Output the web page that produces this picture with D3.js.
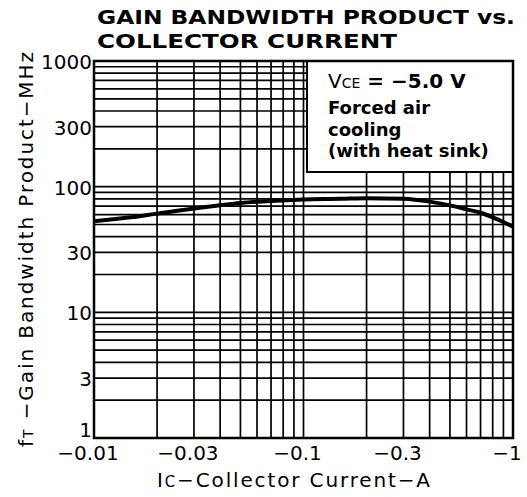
<!DOCTYPE html>
<html>
<head>
<meta charset="utf-8">
<script src="https://cdn.jsdelivr.net/npm/d3@7"></script>
<style>
body { margin: 0; background: #fff; }
text { font-family: "DejaVu Sans", sans-serif; fill: #000; }
</style>
</head>
<body>
<div class="viz"></div>
<script>
// -Ic (A) and fT (MHz)
const currents = [0.01, 0.015, 0.02, 0.03, 0.04, 0.05, 0.07, 0.1, 0.15, 0.2, 0.3, 0.4, 0.5, 0.6, 0.7, 0.8, 1.0];
const gainBw   = [53, 57, 61, 67, 71, 74, 77, 79, 80, 81, 80, 76, 71, 66, 62, 57, 48];

const xTicks = [0.01, 0.03, 0.1, 0.3, 1];
const xTickLabels = ["−0.01", "−0.03", "−0.1", "−0.3", "−1"];
const yTicks = [1, 3, 10, 30, 100, 300, 1000];
const yTickLabels = ["1", "3", "10", "30", "100", "300", "1000"];

const legendLines = ["Forced air", "cooling", "(with heat sink)"];

var width = 527, height = 497;
var margin = { top: 61, right: 14, bottom: 59, left: 94 };

var svg = d3.select('.viz').append('svg')
    .attr('width', width)
    .attr('height', height);

var x = d3.scaleLog()
    .domain([0.01, 1])
    .range([margin.left, width - margin.right]);

var y = d3.scaleLog()
    .domain([1, 1000])
    .range([height - margin.bottom, margin.top]);

// log grid, every 1..9 of each decade
var grid = svg.append('g').attr('stroke', '#000').attr('stroke-width', 1.7);

grid.selectAll('line.v')
    .data(x.ticks())
    .enter().append('line')
    .attr('class', 'v')
    .attr('x1', d => x(d)).attr('x2', d => x(d))
    .attr('y1', y(1)).attr('y2', y(1000));

grid.selectAll('line.h')
    .data(y.ticks())
    .enter().append('line')
    .attr('class', 'h')
    .attr('x1', x(0.01)).attr('x2', x(1))
    .attr('y1', d => y(d)).attr('y2', d => y(d));

// legend box sits on top of the grid
var boxLeft = 307, boxBottom = 172;
svg.append('rect')
    .attr('x', boxLeft)
    .attr('y', y(1000))
    .attr('width', x(1) - boxLeft)
    .attr('height', boxBottom - y(1000))
    .attr('fill', '#fff')
    .attr('stroke', '#000')
    .attr('stroke-width', 2);

var lt = svg.append('text')
    .attr('x', boxLeft + 21)
    .attr('y', 88)
    .attr('font-size', 20);
lt.append('tspan').text('V');
lt.append('tspan').attr('font-size', 14).text('CE');
lt.append('tspan').attr('font-weight', 'bold').text(' = −5.0 V');

svg.selectAll('text.leg')
    .data(legendLines)
    .enter().append('text')
    .attr('class', 'leg')
    .attr('x', boxLeft + 21)
    .attr('y', (d, i) => 114 + i * 21.5)
    .attr('font-size', 18)
    .attr('font-weight', 'bold')
    .text(d => d);

// frame
svg.append('rect')
    .attr('x', x(0.01))
    .attr('y', y(1000))
    .attr('width', x(1) - x(0.01))
    .attr('height', y(1) - y(1000))
    .attr('fill', 'none')
    .attr('stroke', '#000')
    .attr('stroke-width', 2.5);

// the curve
var line = d3.line()
    .x((d, i) => x(currents[i]))
    .y(d => y(d))
    .curve(d3.curveMonotoneX);

svg.append('path')
    .datum(gainBw)
    .attr('d', line)
    .attr('fill', 'none')
    .attr('stroke', '#000')
    .attr('stroke-width', 4);

// tick labels
svg.selectAll('text.xt')
    .data(xTicks)
    .enter().append('text')
    .attr('class', 'xt')
    .attr('x', d => x(d) - 6)
    .attr('y', 460)
    .attr('font-size', 20)
    .attr('text-anchor', 'middle')
    .text((d, i) => xTickLabels[i]);

svg.selectAll('text.yt')
    .data(yTicks)
    .enter().append('text')
    .attr('class', 'yt')
    .attr('x', margin.left - 2)
    .attr('y', d => d === 1 ? y(d) - 1 : y(d) + 8)
    .attr('font-size', 20)
    .attr('text-anchor', 'end')
    .text((d, i) => yTickLabels[i]);

// axis titles
var xt = svg.append('text')
    .attr('x', 157)
    .attr('y', 487)
    .attr('font-size', 20)
    .attr('textLength', 273)
    .attr('lengthAdjust', 'spacing');
xt.append('tspan').text('I');
xt.append('tspan').attr('font-size', 15).text('C');
xt.append('tspan').text('−Collector Current−A');

var yt = svg.append('text')
    .attr('transform', 'translate(33,447) rotate(-90)')
    .attr('font-size', 20)
    .attr('textLength', 395)
    .attr('lengthAdjust', 'spacing');
yt.append('tspan').text('f');
yt.append('tspan').attr('font-size', 14).text('T');
yt.append('tspan').text(' −Gain  Bandwidth  Product−MHz');

// title
svg.append('text')
    .attr('x', 97).attr('y', 24)
    .attr('font-size', 19.5).attr('font-weight', 'bold')
    .attr('textLength', 418).attr('lengthAdjust', 'spacingAndGlyphs')
    .text('GAIN BANDWIDTH PRODUCT vs.');

svg.append('text')
    .attr('x', 97).attr('y', 48)
    .attr('font-size', 19.5).attr('font-weight', 'bold')
    .attr('textLength', 300).attr('lengthAdjust', 'spacingAndGlyphs')
    .text('COLLECTOR CURRENT');
</script>
</body>
</html>
